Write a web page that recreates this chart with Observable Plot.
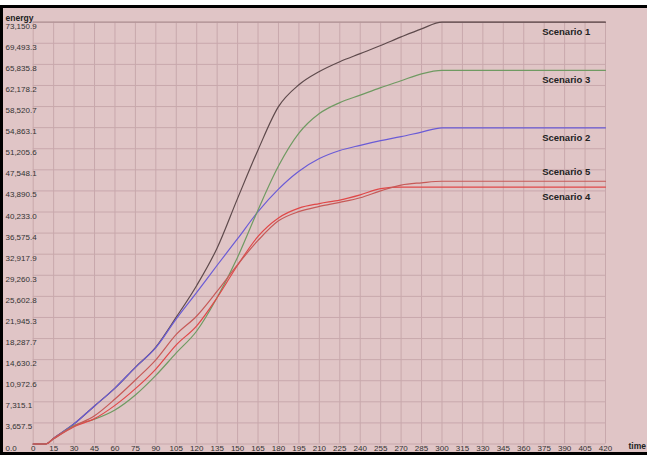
<!DOCTYPE html>
<html>
<head>
<meta charset="utf-8">
<script src="https://cdn.jsdelivr.net/npm/d3@7"></script>
<script src="https://cdn.jsdelivr.net/npm/@observablehq/plot@0.6"></script>
<style>
  html, body { margin: 0; padding: 0; background: #ffffff; }
  #wrap { position: relative; width: 647px; height: 455px; overflow: hidden; }
  #wrap svg { display: block; }
  .ov { position: absolute; pointer-events: none; }
</style>
</head>
<body>
<div id="wrap"></div>
<script>
// ---- data ----
const times = [0, 9, 15, 30, 45, 60, 75, 90, 105, 120, 135, 150, 165, 180, 195, 210, 225, 240, 255, 270, 285, 300, 420];
const scenario1 = [0, 0, 1000, 3500, 6600, 9700, 13300, 16800, 22000, 27500, 34000, 42600, 51000, 58500, 62300, 64600, 66300, 67700, 69100, 70600, 72000, 73150.9, 73150.9];
const scenario2 = [0, 0, 1000, 3500, 6600, 9700, 13300, 16700, 21700, 26300, 31000, 35600, 40300, 44200, 47300, 49500, 50900, 51800, 52600, 53300, 54100, 54830, 54830];
const scenario3 = [0, 0, 900, 3200, 4300, 5900, 8500, 11900, 15800, 19600, 25400, 32400, 40600, 48200, 53900, 57300, 59200, 60500, 61800, 63000, 64200, 64800, 64800];
const scenario4 = [0, 0, 900, 3000, 4400, 6700, 9600, 13000, 17200, 20500, 25400, 31000, 36000, 39200, 40900, 41700, 42300, 43200, 44300, 44550, 44550, 44550, 44550];
const scenario5 = [0, 0, 1000, 3100, 4900, 7800, 11100, 14600, 19000, 22200, 26500, 31100, 35300, 38700, 40300, 41200, 41900, 42700, 43900, 44900, 45300, 45570, 45570];
const seriesNames = ["Scenario 1", "Scenario 2", "Scenario 3", "Scenario 4", "Scenario 5"];
const seriesColors = ["#5e4a4c", "#6a5bd6", "#6f9a62", "#e04848", "#c65a58"];
const xTicks = [0, 15, 30, 45, 60, 75, 90, 105, 120, 135, 150, 165, 180, 195, 210, 225, 240, 255, 270, 285, 300, 315, 330, 345, 360, 375, 390, 405, 420];
const yTicks = [0, 3657.5, 7315.1, 10972.6, 14630.2, 18287.7, 21945.3, 25602.8, 29260.3, 32917.9, 36575.4, 40233.0, 43890.5, 47548.1, 51205.6, 54863.1, 58520.7, 62178.2, 65835.8, 69493.3, 73150.9];
const yLabel = "energy";
const xLabel = "time";

// ---- build table ----
const allSeries = [scenario1, scenario2, scenario3, scenario4, scenario5];
const rows = [];
allSeries.forEach((vals, k) => {
  vals.forEach((v, i) => rows.push({series: seriesNames[k], time: times[i], energy: v}));
});
const endLabels = allSeries.map((vals, k) => ({series: seriesNames[k], energy: vals[vals.length - 1]}));
const below = endLabels.filter(d => d.series !== "Scenario 5");
const above = endLabels.filter(d => d.series === "Scenario 5");

const fmt = d3.format(",.1f");
const grid = "#c8a8ac";
const textCol = "#333333";

const chart = Plot.plot({
  width: 647,
  height: 455,
  marginLeft: 32.7,
  marginRight: 42,
  marginTop: 21.7,
  marginBottom: 11.5,
  style: {background: "#e0c5c6", fontFamily: "Liberation Sans, Arial, sans-serif", fontSize: "8px", color: textCol},
  x: {domain: [0, 420]},
  y: {domain: [0, 73150.9]},
  color: {domain: seriesNames, range: seriesColors},
  marks: [
    Plot.gridX(xTicks, {stroke: grid, strokeOpacity: 1, strokeWidth: 1}),
    Plot.gridY(yTicks, {stroke: grid, strokeOpacity: 1, strokeWidth: 1}),
    Plot.ruleY([yTicks[yTicks.length - 1]], {stroke: "#b09396", strokeWidth: 1.2}),
    Plot.axisX(xTicks, {tickSize: 0, tickPadding: 1, label: null, tickFormat: d => String(d), fill: textCol}),
    Plot.axisY(yTicks, {tickSize: 0, tickPadding: 0, textAnchor: "start", dx: -27.7, dy: 4, label: null, tickFormat: d => fmt(d), fill: textCol}),
    Plot.line(rows, {x: "time", y: "energy", z: "series", stroke: "series", strokeWidth: 1.2, curve: "monotone-x"}),
    Plot.text(below, {x: () => 373.5, y: "energy", text: "series", textAnchor: "start", dy: 10, fontWeight: "bold", fontSize: 9.5, fill: "#222"}),
    Plot.text(above, {x: () => 373.5, y: "energy", text: "series", textAnchor: "start", dy: -9, fontWeight: "bold", fontSize: 9.5, fill: "#222"}),
    Plot.text([yLabel], {frameAnchor: "top-left", dx: -27.7, dy: -7, textAnchor: "start", fontWeight: "bold", fontSize: 8.5, fill: "#222"}),
    Plot.text([xLabel], {frameAnchor: "bottom-right", dx: 23, dy: 5, textAnchor: "start", fontWeight: "bold", fontSize: 8.5, fill: "#222"})
  ]
});

const wrap = document.getElementById("wrap");
wrap.appendChild(chart);
function ov(css) {
  const d = document.createElement("div");
  d.className = "ov";
  d.style.cssText = css;
  wrap.appendChild(d);
}
ov("left:0;top:0;width:647px;height:5px;background:#ffffff;");
ov("left:0;top:5px;width:647px;height:3px;background:#000000;");
ov("left:0;top:5px;width:3px;height:450px;background:#000000;");
ov("left:0;top:452px;width:647px;height:3px;background:#000000;");
</script>
</body>
</html>
